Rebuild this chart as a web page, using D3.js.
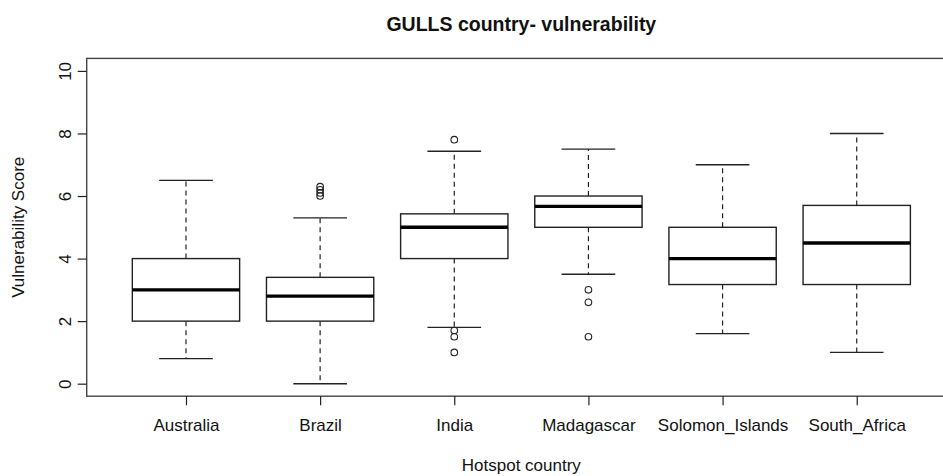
<!DOCTYPE html>
<html><head><meta charset="utf-8">
<script src="https://cdn.jsdelivr.net/npm/d3@7"></script>
<style>body{margin:0;background:#fff}svg{display:block}text{font-family:"Liberation Sans",Arial,sans-serif}</style>
</head><body>
<svg id="c" width="943" height="476"></svg>
<script>
const categories = ["Australia","Brazil","India","Madagascar","Solomon_Islands","South_Africa"];
const whiskerLow = [0.8, 0.0, 1.8, 3.5, 1.6, 1.0];
const q1 = [2.0, 2.0, 4.0, 5.0, 3.17, 3.17];
const median = [3.0, 2.8, 5.0, 5.67, 4.0, 4.5];
const q3 = [4.0, 3.4, 5.43, 6.0, 5.0, 5.7];
const whiskerHigh = [6.5, 5.3, 7.43, 7.5, 7.0, 8.0];
const outliers = [[], [6.0, 6.1, 6.2, 6.3], [7.8, 1.7, 1.5, 1.0], [3.0, 2.6, 1.5], [], []];
const yTicks = [0, 2, 4, 6, 8, 10];

const svg = d3.select("#c");
const x = d3.scaleLinear().domain([0.26, 6.74]).range([86.7, 956]);
const y = d3.scaleLinear().domain([-0.4, 10.4]).range([396.2, 58.4]);
const col = "#222";
const bw = 0.8, sw = 0.4;

// frame
svg.append("rect").attr("x", x(0.26)).attr("y", y(10.4)).attr("width", x(6.74)-x(0.26)).attr("height", y(-0.4)-y(10.4))
  .attr("fill","none").attr("stroke","#444").attr("stroke-width",1.4);

// y axis
const yAxis = d3.axisLeft(y).tickValues(yTicks).tickSize(9).tickPadding(0).tickFormat(d3.format("d"));
const ya = svg.append("g").attr("transform",`translate(${x(0.26)},0)`).call(yAxis);
ya.select(".domain").remove();
ya.selectAll("line").attr("stroke",col).attr("stroke-width",1.2);
ya.selectAll("text").attr("transform", "translate(-22,0) rotate(-90)").attr("x",0).attr("y",0).attr("dy","0.35em")
  .attr("text-anchor","middle").attr("font-size",17).attr("fill","#111");

// x axis
const xAxis = d3.axisBottom(x).tickValues(d3.range(1, categories.length+1)).tickSize(9).tickPadding(14).tickFormat(i => categories[i-1]);
const xa = svg.append("g").attr("transform",`translate(0,${y(-0.4)})`).call(xAxis);
xa.select(".domain").remove();
xa.selectAll("line").attr("stroke",col).attr("stroke-width",1.2);
xa.selectAll("text").attr("font-size",17).attr("fill","#111");

// boxes
const g = svg.append("g");
categories.forEach((c, i) => {
  const cx = x(i+1);
  const half = (x(1+bw/2) - x(1));
  const sh = (x(1+sw/2) - x(1));
  g.append("line").attr("x1",cx).attr("x2",cx).attr("y1",y(q3[i])).attr("y2",y(whiskerHigh[i]))
    .attr("stroke",col).attr("stroke-width",1.2).attr("stroke-dasharray","5,4");
  g.append("line").attr("x1",cx).attr("x2",cx).attr("y1",y(q1[i])).attr("y2",y(whiskerLow[i]))
    .attr("stroke",col).attr("stroke-width",1.2).attr("stroke-dasharray","5,4");
  [whiskerHigh[i], whiskerLow[i]].forEach(v => {
    g.append("line").attr("x1",cx-sh).attr("x2",cx+sh).attr("y1",y(v)).attr("y2",y(v))
      .attr("stroke",col).attr("stroke-width",1.4);
  });
  g.append("rect").attr("x",cx-half).attr("y",y(q3[i])).attr("width",2*half).attr("height",y(q1[i])-y(q3[i]))
    .attr("fill","#fff").attr("stroke",col).attr("stroke-width",1.4);
  g.append("line").attr("x1",cx-half).attr("x2",cx+half).attr("y1",y(median[i])).attr("y2",y(median[i]))
    .attr("stroke","#000").attr("stroke-width",3.4);
  outliers[i].forEach(v => {
    g.append("circle").attr("cx",cx).attr("cy",y(v)).attr("r",3.3).attr("fill","none").attr("stroke",col).attr("stroke-width",1.1);
  });
});

// titles
svg.append("text").attr("x", (x(0.26)+x(6.74))/2).attr("y", 31).attr("text-anchor","middle")
  .attr("font-size",19.5).attr("font-weight","bold").attr("fill","#111").text("GULLS country- vulnerability");
svg.append("text").attr("x", (x(0.26)+x(6.74))/2).attr("y", 471).attr("text-anchor","middle")
  .attr("font-size",17).attr("fill","#111").text("Hotspot country");
svg.append("text").attr("transform", `translate(24,${(y(-0.4)+y(10.4))/2}) rotate(-90)`).attr("text-anchor","middle")
  .attr("font-size",17).attr("fill","#111").text("Vulnerability Score");
</script>
</body></html>
